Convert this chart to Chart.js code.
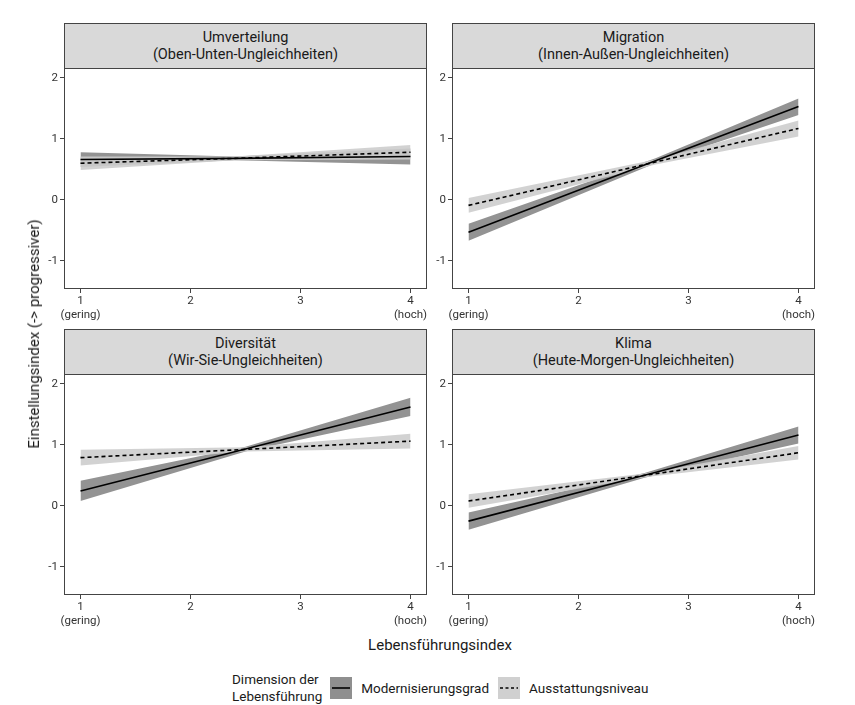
<!DOCTYPE html>
<html>
<head>
<meta charset="utf-8">
<script src="https://cdn.jsdelivr.net/npm/chart.js@4/dist/chart.umd.min.js"></script>
<style>
  body { margin: 0; background: #fff; font-family: Roboto, sans-serif; }
  #page { position: relative; width: 855px; height: 705px; overflow: hidden; }
  canvas { position: absolute; }
  .strip {
    position: absolute; height: 46px; box-sizing: border-box;
    background: #d9d9d9; border: 1px solid #444;
    display: flex; align-items: center; justify-content: center;
    text-align: center; font-size: 14.5px; line-height: 17px; color: #1a1a1a;
  }
  .ytitle {
    position: absolute; left: 34px; top: 334px; white-space: nowrap;
    transform: translate(-50%, -50%) rotate(-90deg);
    font-size: 15px; color: #1a1a1a;
  }
  .xtitle {
    position: absolute; left: 440px; top: 645px; white-space: nowrap;
    transform: translate(-50%, -50%); font-size: 15px; color: #1a1a1a;
  }
  .legend { position: absolute; left: 232px; top: 671px; display: flex; align-items: center; font-size: 13.5px; color: #1a1a1a; }
  .legend .ltitle { line-height: 17px; margin-right: 8px; }
  .legend .key { width: 22px; height: 22px; margin-right: 9px; }
  .legend .lab { margin-right: 9px; }
</style>
</head>
<body>
<div id="page">
  <canvas id="p0" width="410" height="262" style="left:20px;top:68px"></canvas>
  <canvas id="p1" width="410" height="262" style="left:408px;top:68px"></canvas>
  <canvas id="p2" width="410" height="262" style="left:20px;top:374px"></canvas>
  <canvas id="p3" width="410" height="262" style="left:408px;top:374px"></canvas>
  <div class="ytitle">Einstellungsindex (-&gt; progressiver)</div>
  <div class="xtitle">Lebensführungsindex</div>
  <div class="legend">
    <div class="ltitle">Dimension der<br>Lebensführung</div>
    <svg class="key" viewBox="0 0 22 22"><rect width="22" height="22" fill="#8f8f8f"/><line x1="2" y1="11" x2="20" y2="11" stroke="#000" stroke-width="1.6"/></svg>
    <div class="lab">Modernisierungsgrad</div>
    <svg class="key" viewBox="0 0 22 22"><rect width="22" height="22" fill="#d0d0d0"/><line x1="2" y1="11" x2="20" y2="11" stroke="#000" stroke-width="1.6" stroke-dasharray="3 2.5"/></svg>
    <div class="lab">Ausstattungsniveau</div>
  </div>
</div>
<script>
// facet titles
const panelTitles = [
  ['Umverteilung', '(Oben-Unten-Ungleichheiten)'],
  ['Migration', '(Innen-Außen-Ungleichheiten)'],
  ['Diversität', '(Wir-Sie-Ungleichheiten)'],
  ['Klima', '(Heute-Morgen-Ungleichheiten)']
];
const xTicks = [1, 2, 3, 4];
const xTickLabels = [['1', '(gering)'], ['2'], ['3'], ['4', '(hoch)']];
const yTicks = [-1, 0, 1, 2];

// x positions where values were read: start, narrowest point of the bands, end
const bandX = [[1, 2.4, 4], [1, 2.7, 4], [1, 2.5, 4], [1, 2.6, 4]];

// Modernisierungsgrad (solid line, dark band)
const modMean = [[0.66, 0.68, 0.71], [-0.53, 0.64, 1.53], [0.245, 0.93, 1.62], [-0.25, 0.50, 1.16]];
const modLow  = [[0.54, 0.65, 0.58], [-0.67, 0.60, 1.39], [0.08, 0.89, 1.47], [-0.39, 0.46, 1.02]];
const modHigh = [[0.78, 0.71, 0.84], [-0.39, 0.68, 1.66], [0.41, 0.97, 1.77], [-0.11, 0.54, 1.30]];

// Ausstattungsniveau (dashed line, light band)
const ausMean = [[0.60, 0.68, 0.78], [-0.09, 0.62, 1.17], [0.79, 0.925, 1.06], [0.08, 0.50, 0.87]];
const ausLow  = [[0.49, 0.65, 0.66], [-0.21, 0.58, 1.04], [0.66, 0.89, 0.94], [-0.03, 0.47, 0.76]];
const ausHigh = [[0.71, 0.71, 0.90], [0.03, 0.66, 1.30], [0.92, 0.96, 1.18], [0.19, 0.53, 0.98]];

const DARK_BAND = '#939393';
const LIGHT_BAND = 'rgba(205, 205, 205, 0.9)';

function pts(xs, ys) {
  return xs.map((x, i) => ({ x: x, y: ys[i] }));
}

const panelBorder = {
  id: 'panelBorder',
  afterDatasetsDraw(chart) {
    const a = chart.chartArea;
    const ctx = chart.ctx;
    ctx.save();
    ctx.strokeStyle = '#444';
    ctx.lineWidth = 1;
    ctx.strokeRect(Math.round(a.left) + 0.5, Math.round(a.top) + 0.5,
      Math.round(a.right - a.left) - 1, Math.round(a.bottom - a.top) - 1);
    ctx.restore();
  }
};

function bandSet(data, color, fill, order) {
  return {
    data: data, fill: fill, backgroundColor: color,
    borderColor: 'rgba(0,0,0,0)', borderWidth: 0,
    pointRadius: 0, tension: 0, order: order
  };
}

function makePanel(i) {
  const xs = bandX[i];
  const canvas = document.getElementById('p' + i);

  const chart = new Chart(canvas.getContext('2d'), {
    type: 'line',
    data: {
      datasets: [
        bandSet(pts(xs, modHigh[i]), DARK_BAND, '+1', 4),
        bandSet(pts(xs, modLow[i]), DARK_BAND, false, 4),
        bandSet(pts(xs, ausHigh[i]), LIGHT_BAND, '+1', 3),
        bandSet(pts(xs, ausLow[i]), LIGHT_BAND, false, 3),
        {
          label: 'Modernisierungsgrad', data: pts(xs, modMean[i]),
          borderColor: '#000', borderWidth: 1.6, pointRadius: 0, fill: false, order: 2
        },
        {
          label: 'Ausstattungsniveau', data: pts(xs, ausMean[i]),
          borderColor: '#000', borderWidth: 1.6, borderDash: [4, 3], pointRadius: 0, fill: false, order: 1
        }
      ]
    },
    options: {
      responsive: false,
      animation: false,
      devicePixelRatio: 1,
      layout: { padding: { left: 0, right: 3, top: 0, bottom: 0 } },
      plugins: { legend: { display: false }, tooltip: { enabled: false } },
      scales: {
        x: {
          type: 'linear', min: 0.85, max: 4.15,
          afterBuildTicks: s => { s.ticks = xTicks.map(v => ({ value: v })); },
          afterFit: s => { s.height = 41; s.paddingLeft = 0; s.paddingRight = 0; },
          ticks: {
            callback: (v, idx) => xTickLabels[idx],
            autoSkip: false, maxRotation: 0, padding: 1,
            color: '#333', font: { family: 'Roboto', size: 11.5 }
          },
          grid: { drawOnChartArea: false, drawTicks: true, tickLength: 4, color: '#444' },
          border: { display: false }
        },
        y: {
          min: -1.46, max: 2.16,
          afterBuildTicks: s => { s.ticks = yTicks.map(v => ({ value: v })); },
          afterFit: s => { s.width = 44; s.paddingTop = 0; s.paddingBottom = 0; },
          ticks: {
            callback: v => String(v),
            padding: 2, color: '#333', font: { family: 'Roboto', size: 11.5 }
          },
          grid: { drawOnChartArea: false, drawTicks: true, tickLength: 4, color: '#444' },
          border: { display: false }
        }
      }
    },
    plugins: [panelBorder]
  });

  // facet strip above the plotting area
  const a = chart.chartArea;
  const strip = document.createElement('div');
  strip.className = 'strip';
  strip.style.left = (canvas.offsetLeft + a.left) + 'px';
  strip.style.top = (canvas.offsetTop + a.top - 45) + 'px';
  strip.style.width = (a.right - a.left) + 'px';
  strip.innerHTML = panelTitles[i].join('<br>');
  document.getElementById('page').appendChild(strip);
}

[0, 1, 2, 3].forEach(makePanel);
</script>
</body>
</html>
